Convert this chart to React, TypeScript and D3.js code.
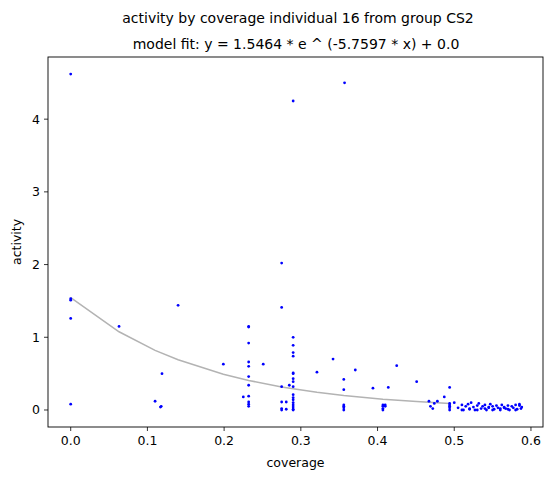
import * as d3 from "d3";

// scatter data: coverage (x) and activity (y)
const xs = [0,0,0,0,0,0.063,0.14,0.11,0.117,0.118,0.119,0.199,0.225,
  0.232,0.232,0.232,0.232,0.232,0.232,0.232,0.232,0.232,0.232,0.232,0.251,
  0.275,0.275,0.275,0.275,0.275,0.275,0.281,0.281,0.285,
  0.29,0.29,0.29,0.29,0.29,0.29,0.29,0.29,0.29,0.29,0.29,0.29,0.29,0.29,0.29,0.29,0.29,0.29,
  0.321,0.342,0.356,0.356,0.356,0.356,0.356,0.356,0.357,0.371,0.394,
  0.407,0.407,0.407,0.407,0.41,0.41,0.414,0.425,0.451,0.467,0.469,0.472,0.474,0.478,0.487,
  0.494,0.494,0.494,0.494,0.494,0.494,
  0.50,0.505,0.51,0.512,0.515,0.518,0.52,0.522,0.525,0.527,0.53,0.532,0.535,0.537,0.54,0.542,0.545,
  0.547,0.55,0.552,0.555,0.557,0.56,0.562,0.565,0.567,0.57,0.572,0.575,0.577,0.58,0.582,0.585,0.587,
  0.51,0.52,0.53,0.54,0.55,0.56,0.57,0.58,0.585,0.588,0.545,0.565];
const ys = [4.62,1.53,1.51,1.26,0.08,1.15,1.44,0.12,0.04,0.05,0.5,0.63,0.18,
  1.15,1.14,0.92,0.66,0.6,0.46,0.34,0.19,0.11,0.08,0.05,0.63,
  2.02,1.41,0.32,0.11,0.02,0.0,0.11,0.01,0.34,
  4.25,1.0,0.89,0.79,0.74,0.51,0.5,0.43,0.39,0.32,0.21,0.17,0.14,0.1,0.07,0.04,0.01,0.0,
  0.52,0.7,0.42,0.28,0.07,0.05,0.03,0.0,4.5,0.55,0.3,
  0.07,0.05,0.02,0.0,0.05,0.07,0.31,0.61,0.39,0.12,0.05,0.02,0.09,0.12,0.18,
  0.31,0.09,0.07,0.05,0.03,0.0,
  0.1,0.03,0.07,0.0,0.05,0.08,0.02,0.1,0.04,0.0,0.06,0.09,0.02,0.05,0.07,0.0,0.03,
  0.08,0.05,0.01,0.06,0.03,0.0,0.07,0.04,0.02,0.06,0.0,0.05,0.03,0.07,0.01,0.06,0.02,
  0.0,0.01,0.0,0.02,0.0,0.02,0.01,0.0,0.08,0.04,0.04,0.03];

// model fit evaluation x positions
const fitXs = [0,0.063,0.11,0.14,0.199,0.232,0.275,0.29,0.321,0.356,0.407,0.451,0.494];
const A = 1.5464, B = -5.7597;

const xTicks = [0,0.1,0.2,0.3,0.4,0.5,0.6];
const yTicks = [0,1,2,3,4];

const W = 554, H = 480;
const L = 48, R = 543, T = 57, Bm = 427;
const font = "DejaVu Sans, sans-serif";

export default function App() {
  const x = d3.scaleLinear().domain([-0.0296, 0.6157]).range([L, R]);
  const y = d3.scaleLinear().domain([-0.234, 4.855]).range([Bm, T]);
  const line = d3.line<number>().x(v => x(v)).y(v => y(A * Math.exp(B * v)));
  return (
    <svg width={W} height={H} style={{ position: "absolute", left: 0, top: 0 }} fontFamily={font}>
      <rect width={W} height={H} fill="white" />
      <text x={298} y={23} textAnchor="middle" fontSize={14}>activity by coverage individual 16 from group CS2</text>
      <text x={296} y={49} textAnchor="middle" fontSize={14}>model fit: y = 1.5464 * e ^ (-5.7597 * x) + 0.0</text>
      <path d={line(fitXs) || ""} fill="none" stroke="#b3b3b3" strokeWidth={1.5} />
      {xs.map((v, i) => <circle key={i} cx={x(v)} cy={y(ys[i])} r={1.4} fill="blue" />)}
      <rect x={L} y={T} width={R - L} height={Bm - T} fill="none" stroke="black" strokeWidth={0.9} />
      {xTicks.map(t => (
        <g key={t}>
          <line x1={x(t)} x2={x(t)} y1={Bm} y2={Bm + 4} stroke="black" strokeWidth={0.8} />
          <text x={x(t)} y={Bm + 18} textAnchor="middle" fontSize={12.5}>{t.toFixed(1)}</text>
        </g>
      ))}
      {yTicks.map(t => (
        <g key={t}>
          <line x1={L - 4} x2={L} y1={y(t)} y2={y(t)} stroke="black" strokeWidth={0.8} />
          <text x={L - 8} y={y(t) + 4.5} textAnchor="end" fontSize={12.5}>{t}</text>
        </g>
      ))}
      <text x={(L + R) / 2} y={467} textAnchor="middle" fontSize={12.5}>coverage</text>
      <text transform={`translate(21,${(T + Bm) / 2}) rotate(-90)`} textAnchor="middle" fontSize={12.5}>activity</text>
    </svg>
  );
}
